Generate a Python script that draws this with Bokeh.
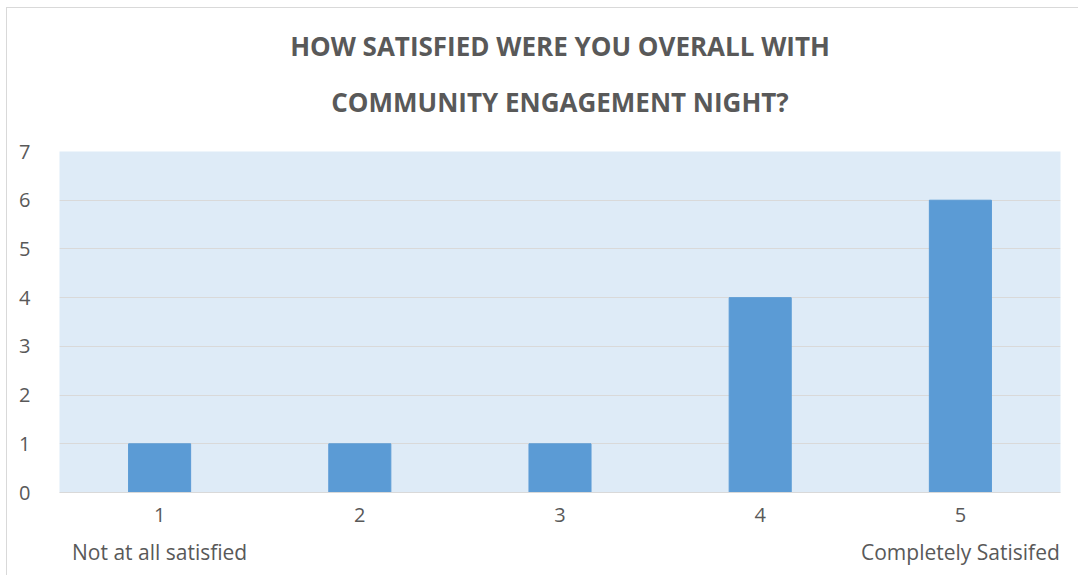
from bokeh.plotting import figure
from bokeh.models import Title, FixedTicker, Range1d, FactorRange, CategoricalAxis
from bokeh.embed import file_html
from bokeh.resources import INLINE

# ---- data ----
categories = ["1", "2", "3", "4", "5"]
counts = [1, 1, 1, 4, 6]
# descriptive labels under the categories (unique blanks for the middle ones)
desc_labels = ["Not at all satisfied", " ", "  ", "   ", "Completely Satisifed"]
title_lines = ["HOW SATISFIED WERE YOU OVERALL WITH", "COMMUNITY ENGAGEMENT NIGHT?"]
y_ticks = [0, 1, 2, 3, 4, 5, 6, 7]

FONT = "Open Sans"
TEXT = "#595959"
GRID = "#D9D9D9"

p = figure(
    x_range=FactorRange(*categories, range_padding=0),
    y_range=Range1d(0, 7),
    width=1072, height=568,
    output_backend="svg", toolbar_location=None,
    min_border_left=52, min_border_right=19, min_border_bottom=84, min_border_top=0,
)
p.extra_x_ranges = {"desc": FactorRange(*desc_labels, range_padding=0)}
p.margin = (7, 0, 0, 6)
p.styles = {"border-top": "1px solid #D9D9D9", "border-left": "1px solid #D9D9D9"}

p.background_fill_color = "#DEEBF7"
p.border_fill_color = "white"
p.outline_line_color = None

p.vbar(x=categories, top=counts, width=0.31, color="#5B9BD5")

# title: spacer nearest the plot, then line 2, then line 1
p.add_layout(Title(text=" ", text_font_size="1px", standoff=29), "above")
p.add_layout(Title(text=title_lines[1], align="center", text_font=FONT,
                   text_font_size="26px", text_font_style="bold", text_color=TEXT,
                   standoff=0), "above")
p.add_layout(Title(text=title_lines[0], align="center", text_font=FONT,
                   text_font_size="26px", text_font_style="bold", text_color=TEXT,
                   standoff=35), "above")

# y axis
p.yaxis.ticker = FixedTicker(ticks=y_ticks)
p.yaxis.axis_line_color = None
p.yaxis.major_tick_line_color = None
p.yaxis.minor_tick_line_color = None
p.yaxis.major_label_standoff = 23
p.yaxis.major_label_text_font = FONT
p.yaxis.major_label_text_font_size = "20px"
p.yaxis.major_label_text_color = TEXT

# x axis
p.xaxis.axis_line_color = GRID
p.xaxis.axis_line_width = 1
p.xaxis.major_tick_line_color = None
p.xaxis.minor_tick_line_color = None
p.xaxis.major_label_standoff = 9
p.xaxis.major_label_text_font = FONT
p.xaxis.major_label_text_font_size = "20px"
p.xaxis.major_label_text_color = TEXT

# second row of category labels (end-point descriptions)
ax2 = CategoricalAxis(
    x_range_name="desc",
    axis_line_color=None, major_tick_line_color=None, minor_tick_line_color=None,
    major_label_standoff=7, major_label_text_font=FONT,
    major_label_text_font_size="21px", major_label_text_color=TEXT,
)
p.add_layout(ax2, "below")

p.xgrid.grid_line_color = None
p.ygrid.grid_line_color = GRID
p.ygrid.grid_line_width = 1

open("out.html", "w").write(file_html(p, INLINE))
